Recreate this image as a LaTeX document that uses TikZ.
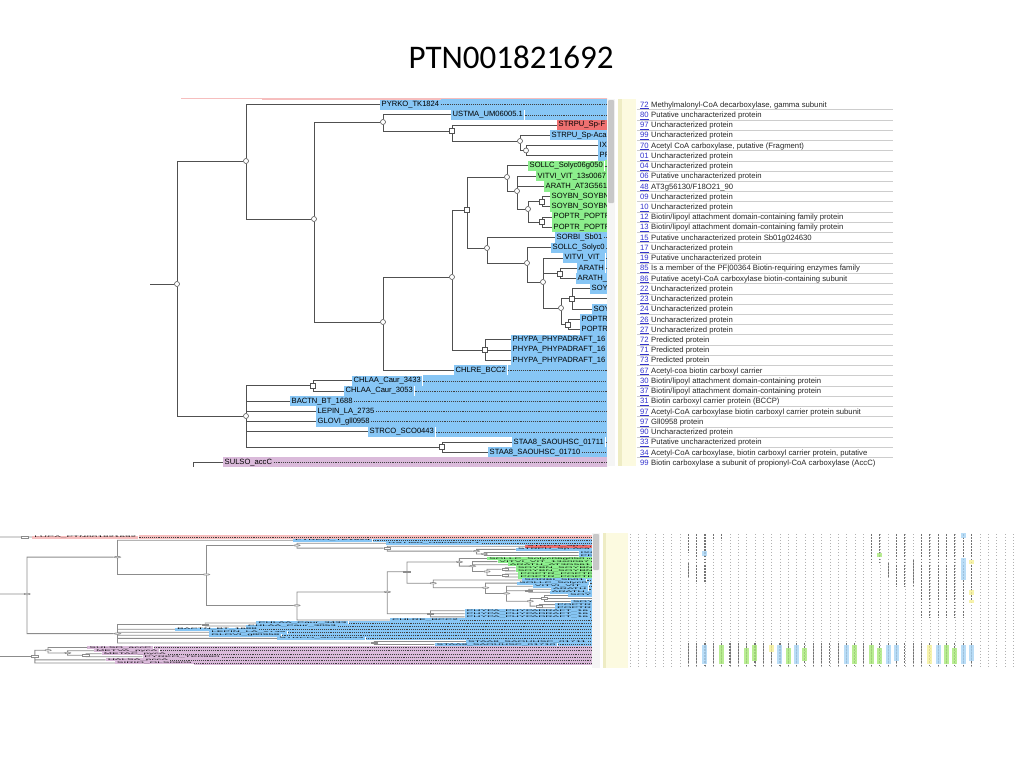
\documentclass[tikz,border=0pt]{standalone}
\usepackage{fontspec}
\setmainfont{Liberation Sans}
\newfontfamily\titlefont{Carlito}
\usetikzlibrary{positioning}

\definecolor{linecolor}{RGB}{80,80,80}
\definecolor{hlblue}{RGB}{135,198,245}
\definecolor{hlgreen}{RGB}{140,238,140}
\definecolor{hlred}{RGB}{238,112,112}
\definecolor{hlpurple}{RGB}{218,186,218}
\definecolor{hlpink}{RGB}{246,190,190}
\definecolor{numblue}{RGB}{51,51,204}
\definecolor{sepgrey}{RGB}{205,205,205}
\definecolor{paneyellow}{RGB}{252,250,224}
\definecolor{paneedge}{RGB}{238,236,196}
\definecolor{thumbgrey}{RGB}{200,200,200}
\definecolor{cellgreen}{RGB}{168,232,120}
\definecolor{cellblue}{RGB}{168,212,245}
\definecolor{cellyellow}{RGB}{245,240,150}

\tikzset{
  inode/.style={circle,draw=linecolor,fill=white,inner sep=0pt,minimum size=5pt,line width=0.6pt},
  dnode/.style={rectangle,draw=linecolor,fill=white,inner sep=0pt,minimum size=5pt,line width=0.6pt},
  branch/.style={draw=linecolor,line width=0.8pt},
  leaf/.style={anchor=west,fill=#1,inner xsep=1.5pt,inner ysep=0pt,minimum height=10.4pt,
    text height=5.4pt,text depth=1.5pt,font=\fontsize{7.6}{9}\selectfont},
  leader/.style={draw=black!75,line width=0.35pt,dash pattern=on 1pt off 0.9pt},
  annnum/.style={anchor=base west,inner sep=0pt,text=numblue,font=\fontsize{7.7}{9}\selectfont},
  anntext/.style={anchor=base west,inner sep=0pt,text=black!85,font=\fontsize{7.7}{9}\selectfont},
  sepline/.style={draw=sepgrey,line width=0.6pt},
  titletext/.style={anchor=base,inner sep=0pt,font=\titlefont\fontsize{33}{40}\selectfont},
  aligndot/.style={draw=black!30,line width=0.5pt,dash pattern=on 1pt off 2.07pt},
  alignres/.style={draw=black!55,line width=1.1pt,dash pattern=on 1.8pt off 1.27pt},
}

% the whole gene tree, in the coordinates of the zoomed view
\newcommand{\ptntree}{%
  % leaves
  \node[leaf=hlpink] (lluca) at (181,94.27) {LUCA\_PTN001821692};
  \node[leaf=hlblue] (l0) at (380,104.5) {PYRKO\_TK1824};
  \node[leaf=hlblue] (l1) at (451,114.73) {USTMA\_UM06005.1};
  \node[leaf=hlred] (l2) at (557,124.96) {STRPU\_Sp-F};
  \node[leaf=hlblue] (l3) at (550,135.19) {STRPU\_Sp-Aca};
  \node[leaf=hlblue] (l4) at (598,145.42) {IXOSC};
  \node[leaf=hlblue] (l5) at (598,155.65) {PR};
  \node[leaf=hlgreen] (l6) at (528,165.88) {SOLLC\_Solyc06g050};
  \node[leaf=hlgreen] (l7) at (536,176.11) {VITVI\_VIT\_13s0067};
  \node[leaf=hlgreen] (l8) at (544,186.34) {ARATH\_AT3G561};
  \node[leaf=hlgreen] (l9) at (550,196.57) {SOYBN\_SOYBN};
  \node[leaf=hlgreen] (l10) at (550,206.8) {SOYBN\_SOYBN};
  \node[leaf=hlgreen] (l11) at (552,217.03) {POPTR\_POPTR};
  \node[leaf=hlgreen] (l12) at (552,227.26) {POPTR\_POPTR};
  \node[leaf=hlblue] (l13) at (555,237.49) {SORBI\_Sb01};
  \node[leaf=hlblue] (l14) at (551,247.72) {SOLLC\_Solyc0};
  \node[leaf=hlblue] (l15) at (563,257.95) {VITVI\_VIT\_};
  \node[leaf=hlblue] (l16) at (577,268.18) {ARATH};
  \node[leaf=hlblue] (l17) at (576,278.41) {ARATH\_};
  \node[leaf=hlblue] (l18) at (590,288.64) {SOY};
  \coordinate (c19) at (615,298.87);
  \node[leaf=hlblue] (l20) at (592,309.1) {SOY};
  \node[leaf=hlblue] (l21) at (580,319.33) {POPTR};
  \node[leaf=hlblue] (l22) at (580,329.56) {POPTR};
  \node[leaf=hlblue] (l23) at (511,339.79) {PHYPA\_PHYPADRAFT\_16};
  \node[leaf=hlblue] (l24) at (511,350.02) {PHYPA\_PHYPADRAFT\_16};
  \node[leaf=hlblue] (l25) at (511,360.25) {PHYPA\_PHYPADRAFT\_16};
  \node[leaf=hlblue] (l26) at (454,370.48) {CHLRE\_BCC2};
  \node[leaf=hlblue] (l27) at (352,380.71) {CHLAA\_Caur\_3433};
  \node[leaf=hlblue] (l28) at (344,390.94) {CHLAA\_Caur\_3053};
  \node[leaf=hlblue] (l29) at (290,401.17) {BACTN\_BT\_1688};
  \node[leaf=hlblue] (l30) at (316,411.4) {LEPIN\_LA\_2735};
  \node[leaf=hlblue] (l31) at (316,421.63) {GLOVI\_gll0958};
  \node[leaf=hlblue] (l32) at (368,431.86) {STRCO\_SCO0443};
  \node[leaf=hlblue] (l33) at (512,442.09) {STAA8\_SAOUHSC\_01711};
  \node[leaf=hlblue] (l34) at (488,452.32) {STAA8\_SAOUHSC\_01710};
  \node[leaf=hlpurple] (l35) at (223,462.55) {SULSO\_accC};
  \node[leaf=hlpurple] (l36) at (228,472.78) {METVA\_pycA};
  \node[leaf=hlpurple] (l37) at (234,483.01) {METAC\_pycA};
  \node[leaf=hlpurple] (l38) at (265,493.24) {PYRKO\_TK0980};
  \node[leaf=hlpurple] (l39) at (237,503.47) {HALSA\_pccA};
  \node[leaf=hlpurple] (l40) at (244,513.7) {SIRIO\_OLS0805};
  \coordinate (edge) at (608,0);
  % highlight runs to the right edge, with a dotted leader
  \foreach \lf/\hc in {lluca/hlpink,l0/hlblue,l1/hlblue,l2/hlred,l3/hlblue,l4/hlblue,l5/hlblue,
      l6/hlgreen,l7/hlgreen,l8/hlgreen,l9/hlgreen,l10/hlgreen,l11/hlgreen,l12/hlgreen,
      l13/hlblue,l14/hlblue,l15/hlblue,l16/hlblue,l17/hlblue,l18/hlblue,l20/hlblue,l21/hlblue,
      l22/hlblue,l23/hlblue,l24/hlblue,l25/hlblue,l26/hlblue,l27/hlblue,l28/hlblue,l29/hlblue,
      l30/hlblue,l31/hlblue,l32/hlblue,l33/hlblue,l34/hlblue,l35/hlpurple,l36/hlpurple,
      l37/hlpurple,l38/hlpurple,l39/hlpurple,l40/hlpurple}{
    \fill[\hc] (\lf.north east) rectangle (edge |- \lf.south);
    \draw[leader] (\lf.east) -- (\lf.east -| edge);
  }
  % internal nodes
  \coordinate (rootin) at (140,284);
  \coordinate (lucain) at (140,94.27);
  \coordinate (zin) at (140,492);
  \node[dnode] (nluca) at (175.5,94.27) {};
  \node[inode] (root) at (177,284) {};
  \node[inode] (nA) at (246,161) {};
  \node[inode] (nW) at (246,416) {};
  \node[inode] (nB) at (314,219) {};
  \node[inode] (nC) at (383,122) {};
  \node[inode] (nD) at (383,322) {};
  \node[dnode] (nE) at (452,131) {};
  \node[inode] (nF) at (520,141) {};
  \node[inode] (nG) at (526,150.5) {};
  \node[inode] (nH) at (452,277) {};
  \node[dnode] (nI) at (467,210) {};
  \node[dnode] (nJ) at (485,350.02) {};
  \node[inode] (nK) at (507,177) {};
  \node[inode] (nL) at (487,248) {};
  \node[inode] (nM) at (517,191) {};
  \node[inode] (nN) at (528,209) {};
  \node[dnode] (nO) at (542,201.7) {};
  \node[dnode] (nP) at (542,222.1) {};
  \node[inode] (nQ) at (527,263) {};
  \node[inode] (nR) at (543,282) {};
  \node[dnode] (nS) at (560,273.3) {};
  \node[inode] (nT) at (561,308) {};
  \node[dnode] (nU) at (572,298.87) {};
  \node[dnode] (nV) at (568,324.4) {};
  \node[dnode] (nX) at (313,385.8) {};
  \node[dnode] (nY) at (442,447.2) {};
  \node[dnode] (nZ0) at (183,492) {};
  \node[inode] (nZ1) at (193,471.5) {};
  \node[inode] (nZ2) at (208,480.4) {};
  \node[dnode] (nZ3) at (222,488.1) {};
  % branches
  \draw[branch] (lucain) -- (nluca) (nluca) -- (lluca)
    (rootin) -- (root) (root) |- (nA) (root) |- (nW)
    (nA) |- (l0) (nA) |- (nB)
    (nB) |- (nC) (nB) |- (nD)
    (nC) |- (l1) (nC) |- (nE)
    (nE) |- (l2) (nE) |- (nF)
    (nF) |- (l3) (nF) |- (nG)
    (nG) |- (l4) (nG) |- (l5)
    (nD) |- (nH) (nD) |- (l26)
    (nH) |- (nI) (nH) |- (nJ)
    (nI) |- (nK) (nI) |- (nL)
    (nK) |- (l6) (nK) |- (nM)
    (nM) |- (l7) (nM) |- (l8) (nM) |- (nN)
    (nN) |- (nO) (nN) |- (nP)
    (nO) |- (l9) (nO) |- (l10)
    (nP) |- (l11) (nP) |- (l12)
    (nL) |- (l13) (nL) |- (nQ)
    (nQ) |- (l14) (nQ) |- (nR)
    (nR) |- (l15) (nR) |- (nS) (nR) |- (nT)
    (nS) |- (l16) (nS) |- (l17)
    (nT) |- (nU) (nT) |- (nV)
    (nU) |- (l18) (nU) -- (c19) (nU) |- (l20)
    (nV) |- (l21) (nV) |- (l22)
    (nJ) |- (l23) (nJ) -- (l24) (nJ) |- (l25)
    (nW) |- (nX) (nW) |- (l29) (nW) |- (l30) (nW) |- (l31) (nW) |- (l32) (nW) |- (nY)
    (nX) |- (l27) (nX) |- (l28)
    (nY) |- (l33) (nY) |- (l34)
    (zin) -- (nZ0) (nZ0) |- (nZ1) (nZ0) |- (l39) (nZ0) |- (l40)
    (nZ1) |- (l35) (nZ1) |- (nZ2)
    (nZ2) |- (l36) (nZ2) |- (nZ3)
    (nZ3) |- (l37) (nZ3) |- (l38);
}

\begin{document}
\begin{tikzpicture}[x=1pt,y=-1pt]
\useasboundingbox (0,0) rectangle (1024,768);
\node[titletext] (title) at (511,68) {PTN001821692};

% zoomed tree view
\begin{scope}
  \clip (150,98.4) rectangle (607,466);
  \ptntree
\end{scope}

% scroll bar and margin of the top view
\fill[black!4] (607,99.4) rectangle (615,466);
\fill[thumbgrey,rounded corners=1pt] (608,100) rectangle (614,203);
\fill[paneyellow] (618,99.4) rectangle (636,466);
\fill[paneedge] (618,99.4) rectangle (622,466);

% annotation list
\begin{scope}
  \clip (636,99.4) rectangle (900,466);
  \foreach \row/\pid/\desc in {
    0/72/{Methylmalonyl-CoA decarboxylase, gamma subunit},
    1/80/{Putative uncharacterized protein},
    2/97/{Uncharacterized protein},
    3/99/{Uncharacterized protein},
    4/70/{Acetyl CoA carboxylase, putative (Fragment)},
    5/01/{Uncharacterized protein},
    6/04/{Uncharacterized protein},
    7/06/{Putative uncharacterized protein},
    8/48/{AT3g56130/F18O21\_90},
    9/09/{Uncharacterized protein},
    10/10/{Uncharacterized protein},
    11/12/{Biotin/lipoyl attachment domain-containing family protein},
    12/13/{Biotin/lipoyl attachment domain-containing family protein},
    13/15/{Putative uncharacterized protein Sb01g024630},
    14/17/{Uncharacterized protein},
    15/19/{Putative uncharacterized protein},
    16/85/{Is a member of the PF|00364 Biotin-requiring enzymes family},
    17/86/{Putative acetyl-CoA carboxylase biotin-containing subunit},
    18/22/{Uncharacterized protein},
    19/23/{Uncharacterized protein},
    20/24/{Uncharacterized protein},
    21/26/{Uncharacterized protein},
    22/27/{Uncharacterized protein},
    23/72/{Predicted protein},
    24/71/{Predicted protein},
    25/73/{Predicted protein},
    26/67/{Acetyl-coa biotin carboxyl carrier},
    27/30/{Biotin/lipoyl attachment domain-containing protein},
    28/37/{Biotin/lipoyl attachment domain-containing protein},
    29/31/{Biotin carboxyl carrier protein (BCCP)},
    30/97/{Acetyl-CoA carboxylase biotin carboxyl carrier protein subunit},
    31/97/{Gll0958 protein},
    32/90/{Uncharacterized protein},
    33/33/{Putative uncharacterized protein},
    34/34/{Acetyl-CoA carboxylase, biotin carboxyl carrier protein, putative},
    35/99/{Biotin carboxylase a subunit of propionyl-CoA carboxylase (AccC)}}{
    \node[annnum] (num\row) at (640,{107.2+10.23*\row}) {\underline{\pid}};
    \node[anntext] (ann\row) at (651,{107.2+10.23*\row}) {\desc};
    \draw[sepline] (637,{109.7+10.23*\row}) -- (893,{109.7+10.23*\row});
  }
\end{scope}

% overview of the full tree
\begin{scope}
  \clip (0,533) rectangle (592,668);
  \begin{scope}[shift={(-204.9,508.8)},xscale=1.31,yscale=0.3,transform shape]
    \colorlet{linecolor}{black!45}
    \ptntree
  \end{scope}
\end{scope}

% scroll bar and margin of the overview
\fill[black!4] (592,533) rectangle (600,668);
\fill[thumbgrey,rounded corners=1pt] (593,534) rectangle (599,570);
\fill[paneyellow] (603,533) rectangle (628,668);
\fill[paneedge] (603,533) rectangle (606,668);

% alignment overview
\foreach \i in {0,...,46}
  \draw[aligndot] ({630+8.33*\i},534) -- ({630+8.33*\i},667);
\foreach \i/\ya/\yb in {7/534/553,7/563/577,8/534/583,9/534/583,10/534/539,11/534/540,
    29/534/563,30/534/563,31/563/577,32/534/587,33/534/587,34/560/587,35/534/617,
    36/534/617,37/534/617,38/534/617,39/534/617,40/534/617,41/534/600}
  \draw[alignres] ({630+8.33*\i},\ya) -- ({630+8.33*\i},\yb);
\foreach \i in {7,8,...,41}
  \draw[alignres] ({630+8.33*\i},643) -- ({630+8.33*\i},667);
\foreach \i/\ya/\yb/\cc in {9/551/556/cellblue,30/553/557/cellgreen,40/533/538/cellblue,
    40/558/580/cellblue,41/560/564/cellyellow,41/590/595/cellyellow,41/600/603/cellyellow,
    9/645/664/cellblue,11/645/664/cellgreen,14/648/664/cellgreen,15/645/661/cellgreen,
    17/645/652/cellyellow,18/645/664/cellblue,19/648/664/cellgreen,20/645/664/cellblue,
    21/648/661/cellgreen,26/645/664/cellblue,27/645/664/cellgreen,29/645/664/cellgreen,
    30/648/664/cellgreen,31/645/664/cellblue,32/645/661/cellblue,36/645/664/cellyellow,
    37/645/664/cellblue,38/645/664/cellgreen,39/648/664/cellgreen,40/645/664/cellblue,
    41/645/661/cellblue}
  \fill[\cc,opacity=0.8] ({627.5+8.33*\i},\ya) rectangle ({632.5+8.33*\i},\yb);
\end{tikzpicture}
\end{document}
